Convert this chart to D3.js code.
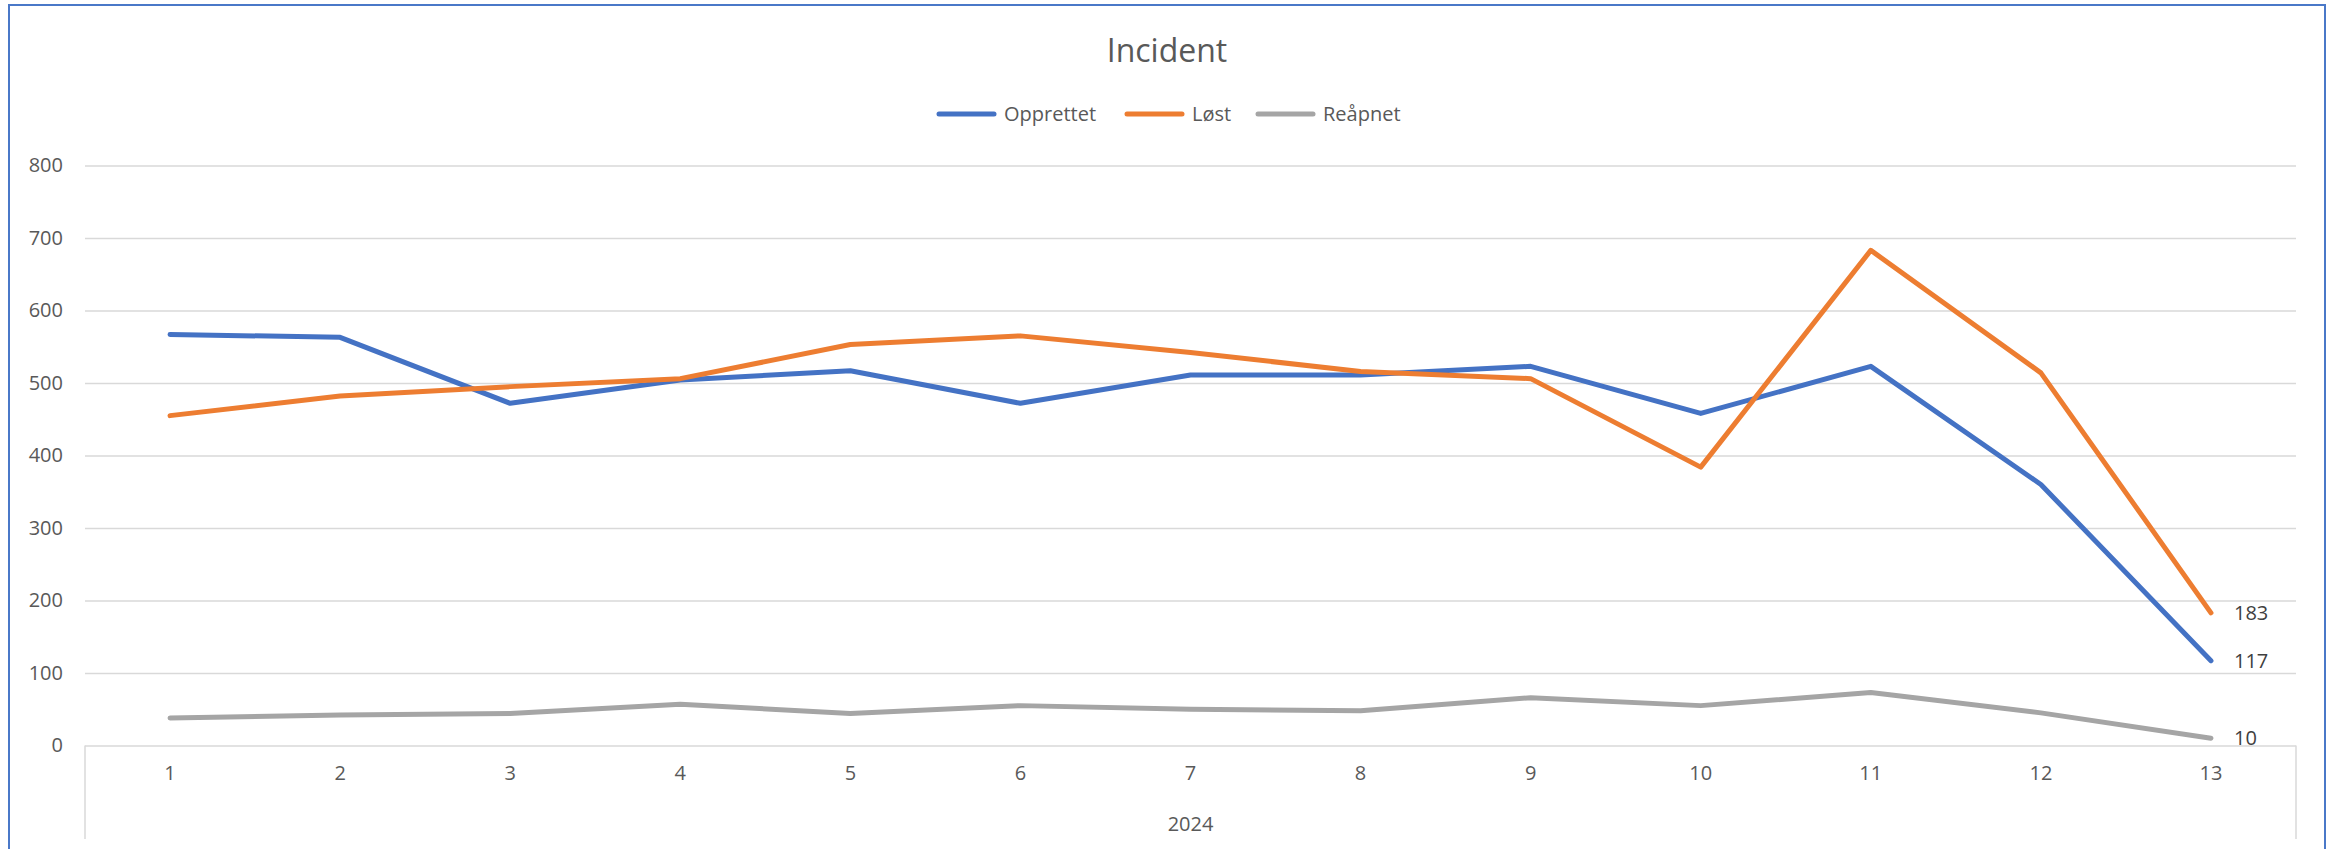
<!DOCTYPE html>
<html>
<head>
<meta charset="utf-8">
<script src="https://cdn.jsdelivr.net/npm/d3@7"></script>
<style>
  html, body { margin: 0; padding: 0; background: #fff; }
  svg { display: block; font-family: "Open Sans", sans-serif; }
</style>
</head>
<body>
<script>
// chart values
const months = ["1", "2", "3", "4", "5", "6", "7", "8", "9", "10", "11", "12", "13"];
const opprettet = [567, 563, 472, 504, 517, 472, 511, 511, 523, 458, 523, 360, 117];
const lost = [455, 482, 495, 506, 553, 565, 542, 516, 506, 384, 683, 514, 183];
const reapnet = [38, 42, 44, 57, 44, 55, 50, 48, 66, 55, 73, 45, 10];
const seriesNames = ["Opprettet", "Løst", "Reåpnet"];
const colors = ["#4472C4", "#ED7D31", "#A5A5A5"];
const yTicks = [0, 100, 200, 300, 400, 500, 600, 700, 800];
const yearLabel = "2024";

const W = 2338, H = 849;
const plot = { left: 85, right: 2296, top: 165.5, bottom: 745.5 };

const svg = d3.select("body").append("svg")
    .attr("width", W)
    .attr("height", H);

// chart frame
svg.append("rect")
    .attr("x", 9).attr("y", 5)
    .attr("width", 2316).attr("height", 900)
    .attr("fill", "none")
    .attr("stroke", "#4A78C8")
    .attr("stroke-width", 2);

const x = d3.scaleBand()
    .domain(months)
    .range([plot.left, plot.right]);

const y = d3.scaleLinear()
    .domain([0, 800])
    .range([plot.bottom, plot.top]);

const cx = d => x(d) + x.bandwidth() / 2;

// gridlines + y labels
const yAxis = d3.axisLeft(y)
    .tickValues(yTicks)
    .tickSize(-(plot.right - plot.left))
    .tickPadding(22);

const gy = svg.append("g")
    .attr("transform", `translate(${plot.left},0)`)
    .call(yAxis);
gy.select(".domain").remove();
gy.selectAll(".tick line").attr("stroke", "#D9D9D9").attr("stroke-width", 1.5);
gy.selectAll(".tick text")
    .attr("fill", "#595959")
    .style("font-size", "20px")
    .style("font-family", "'Open Sans', sans-serif");

// category axis
const xAxis = d3.axisBottom(x).tickSize(0).tickPadding(20);
const gx = svg.append("g")
    .attr("transform", `translate(0,${plot.bottom})`)
    .call(xAxis);
gx.select(".domain").remove();
gx.selectAll(".tick text")
    .attr("fill", "#595959")
    .style("font-size", "20px")
    .style("font-family", "'Open Sans', sans-serif");

// multi-level axis side lines
[plot.left, plot.right].forEach(px => {
    svg.append("line")
        .attr("x1", px).attr("x2", px)
        .attr("y1", plot.bottom).attr("y2", 839)
        .attr("stroke", "#D9D9D9").attr("stroke-width", 1.5);
});

svg.append("text")
    .attr("x", (plot.left + plot.right) / 2)
    .attr("y", 831)
    .attr("text-anchor", "middle")
    .attr("fill", "#595959")
    .style("font-size", "20px")
    .text(yearLabel);

// lines
const allSeries = [opprettet, lost, reapnet];
const line = d3.line()
    .x((d, i) => cx(months[i]))
    .y(d => y(d));

allSeries.forEach((vals, k) => {
    svg.append("path")
        .datum(vals)
        .attr("d", line)
        .attr("fill", "none")
        .attr("stroke", colors[k])
        .attr("stroke-width", 5)
        .attr("stroke-linejoin", "round")
        .attr("stroke-linecap", "round");
});

// last-point labels
allSeries.forEach((vals, k) => {
    const last = vals.length - 1;
    svg.append("text")
        .attr("x", cx(months[last]) + 23)
        .attr("y", y(vals[last]))
        .attr("dy", "0.35em")
        .attr("fill", "#404040")
        .style("font-size", "20px")
        .text(vals[last]);
});

// title
svg.append("text")
    .attr("x", 1167)
    .attr("y", 62)
    .attr("text-anchor", "middle")
    .attr("fill", "#595959")
    .style("font-size", "32px")
    .text("Incident");

// legend
const legendX = [939, 1127, 1258];
const legend = svg.append("g");
seriesNames.forEach((name, k) => {
    legend.append("line")
        .attr("x1", legendX[k]).attr("x2", legendX[k] + 55)
        .attr("y1", 114).attr("y2", 114)
        .attr("stroke", colors[k])
        .attr("stroke-width", 5)
        .attr("stroke-linecap", "round");
    legend.append("text")
        .attr("x", legendX[k] + 65)
        .attr("y", 114)
        .attr("dy", "0.35em")
        .attr("fill", "#595959")
        .style("font-size", "20px")
        .text(name);
});
</script>
</body>
</html>
